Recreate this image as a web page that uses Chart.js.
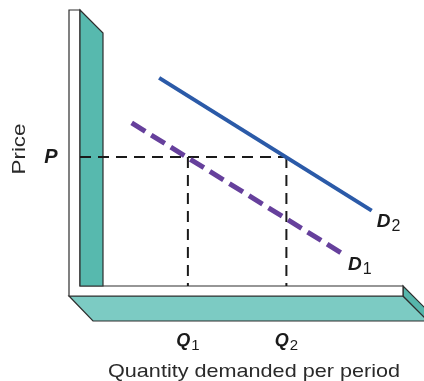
<!DOCTYPE html>
<html>
<head>
<meta charset="utf-8">
<title>Increase in demand</title>
<script src="https://cdn.jsdelivr.net/npm/chart.js@4/dist/chart.umd.min.js"></script>
<style>
  html, body { margin: 0; padding: 0; background: #ffffff; }
  canvas { display: block; }
</style>
</head>
<body>
<canvas id="chart" width="424" height="381"></canvas>
<script>
// Demand curves (quantity on x, price on y), abstract 0–10 units
const d1Quantity = [1.60, 8.14];
const d1Price    = [5.91, 1.16];
const d2Quantity = [2.45, 9.03];
const d2Price    = [7.54, 2.73];

// Reference price and the quantities demanded at that price
const priceLevel = 4.67;
const quantityLevels = [3.34, 6.39];

// Labels: [main letter, subscript]
const priceTickLabel = 'P';
const quantityTickLabels = [['Q', '1'], ['Q', '2']];
const curveLabels = [['D', '1'], ['D', '2']];
const xAxisTitle = 'Quantity demanded per period';
const yAxisTitle = 'Price';

const FONT = '"Liberation Sans", Arial, Helvetica, sans-serif';
const toPoints = (xs, ys) => xs.map((x, i) => ({ x, y: ys[i] }));

// 3D slab axes drawn behind the data
const slabAxes = {
  id: 'slabAxes',
  beforeDatasetsDraw(chart) {
    const { ctx, chartArea: { left: a, right: r, top: t, bottom: b } } = chart;
    const strip = 11, depth = 23, baseDepth = 25, stroke = '#2e2e2e';
    ctx.save();
    ctx.lineWidth = 1.2;
    ctx.strokeStyle = stroke;
    ctx.lineJoin = 'miter';

    // base slab: front surface
    ctx.beginPath();
    ctx.moveTo(a - strip, b + 10);
    ctx.lineTo(r, b + 10);
    ctx.lineTo(r + baseDepth, b + 10 + baseDepth);
    ctx.lineTo(a - strip + baseDepth - 1, b + 10 + baseDepth);
    ctx.closePath();
    ctx.fillStyle = '#7ccbc3';
    ctx.fill();
    ctx.stroke();

    // base slab: end face
    ctx.beginPath();
    ctx.moveTo(r, b);
    ctx.lineTo(r + baseDepth, b + baseDepth);
    ctx.lineTo(r + baseDepth, b + 10 + baseDepth);
    ctx.lineTo(r, b + 10);
    ctx.closePath();
    ctx.fillStyle = '#56b6ab';
    ctx.fill();
    ctx.stroke();

    // white L-shaped frame
    ctx.beginPath();
    ctx.moveTo(a - strip, t);
    ctx.lineTo(a, t);
    ctx.lineTo(a, b);
    ctx.lineTo(r, b);
    ctx.lineTo(r, b + 10);
    ctx.lineTo(a - strip, b + 10);
    ctx.closePath();
    ctx.fillStyle = '#ffffff';
    ctx.fill();
    ctx.stroke();

    // vertical teal slab
    ctx.beginPath();
    ctx.moveTo(a, t);
    ctx.lineTo(a + depth, t + depth);
    ctx.lineTo(a + depth, b);
    ctx.lineTo(a, b);
    ctx.closePath();
    ctx.fillStyle = '#57b9ae';
    ctx.fill();
    ctx.stroke();
    ctx.restore();
  }
};

// Letter with a subscript, anchored by its centre or left edge
function drawSubscripted(ctx, parts, x, y, size, subSize, align) {
  const main = 'italic bold ' + size + 'px ' + FONT;
  const sub = subSize + 'px ' + FONT;
  ctx.font = main;
  const w1 = ctx.measureText(parts[0]).width;
  ctx.font = sub;
  const w2 = ctx.measureText(parts[1]).width;
  const start = align === 'center' ? x - (w1 + 1 + w2) / 2 : x;
  ctx.textAlign = 'left';
  ctx.textBaseline = 'alphabetic';
  ctx.font = main;
  ctx.fillText(parts[0], start, y);
  ctx.font = sub;
  ctx.fillText(parts[1], start + w1 + 1, y + 4);
}

// Centred text stretched horizontally to a given width
function drawWideText(ctx, text, cx, cy, width) {
  const natural = ctx.measureText(text).width;
  ctx.save();
  ctx.translate(cx, cy);
  ctx.scale(width / natural, 1);
  ctx.textAlign = 'center';
  ctx.fillText(text, 0, 0);
  ctx.restore();
}

const labelsPlugin = {
  id: 'labels',
  afterDraw(chart) {
    const { ctx, chartArea: { left: a, bottom: b } } = chart;
    const xs = chart.scales.x, ys = chart.scales.y;
    ctx.save();
    ctx.fillStyle = '#1a1a1a';

    // P on the price axis
    ctx.font = 'italic bold 20px ' + FONT;
    ctx.textAlign = 'center';
    ctx.textBaseline = 'middle';
    ctx.fillText(priceTickLabel, a - 29, ys.getPixelForValue(priceLevel));

    // Q1, Q2 under the quantity axis
    quantityLevels.forEach((q, i) => {
      drawSubscripted(ctx, quantityTickLabels[i], xs.getPixelForValue(q), b + 60, 18, 15, 'center');
    });

    // D1, D2 at the lower ends of the curves
    const ends = [
      [d1Quantity[1], d1Price[1]],
      [d2Quantity[1], d2Price[1]]
    ];
    ends.forEach((e, i) => {
      drawSubscripted(ctx, curveLabels[i], xs.getPixelForValue(e[0]) + 5, ys.getPixelForValue(e[1]) + 16, 19, 16, 'left');
    });

    // axis titles
    ctx.font = '19px ' + FONT;
    ctx.textBaseline = 'alphabetic';
    ctx.fillStyle = '#2a2a2a';
    drawWideText(ctx, xAxisTitle, 254, 377, 292);

    ctx.save();
    ctx.translate(25, 149);
    ctx.rotate(-Math.PI / 2);
    drawWideText(ctx, yAxisTitle, 0, 0, 51);
    ctx.restore();
    ctx.restore();
  }
};

const guideStyle = {
  borderColor: '#1a1a1a',
  borderWidth: 2,
  borderDash: [11, 7],
  pointRadius: 0,
  showLine: true,
  fill: false,
  clip: false,
  order: 2
};

new Chart(document.getElementById('chart'), {
  type: 'scatter',
  data: {
    datasets: [
      Object.assign({ data: [{ x: 0, y: priceLevel }, { x: quantityLevels[1], y: priceLevel }] }, guideStyle),
      Object.assign({ data: [{ x: quantityLevels[0], y: priceLevel }, { x: quantityLevels[0], y: 0 }] }, guideStyle),
      Object.assign({ data: [{ x: quantityLevels[1], y: priceLevel }, { x: quantityLevels[1], y: 0 }] }, guideStyle),
      {
        data: toPoints(d1Quantity, d1Price),
        borderColor: '#66409c',
        borderWidth: 5,
        borderDash: [16, 7],
        borderCapStyle: 'butt',
        pointRadius: 0,
        showLine: true,
        clip: false,
        order: 1
      },
      {
        data: toPoints(d2Quantity, d2Price),
        borderColor: '#2b5aa8',
        borderWidth: 4,
        borderCapStyle: 'butt',
        pointRadius: 0,
        showLine: true,
        clip: false,
        order: 0
      }
    ]
  },
  options: {
    responsive: false,
    animation: false,
    events: [],
    layout: { padding: { left: 80, right: 21, top: 10, bottom: 95 } },
    scales: {
      x: { type: 'linear', min: 0, max: 10, display: false },
      y: { type: 'linear', min: 0, max: 10, display: false }
    },
    plugins: {
      legend: { display: false },
      tooltip: { enabled: false }
    }
  },
  plugins: [slabAxes, labelsPlugin]
});
</script>
</body>
</html>
